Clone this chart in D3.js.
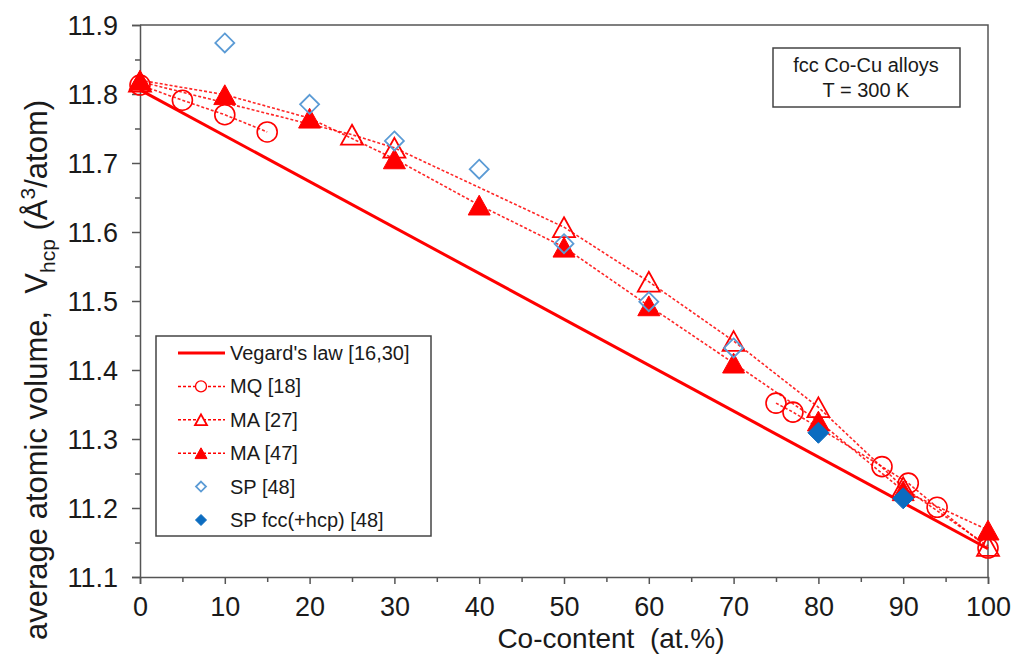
<!DOCTYPE html>
<html>
<head>
<meta charset="utf-8">
<script src="https://cdn.jsdelivr.net/npm/d3@7"></script>
<style>
  body { margin: 0; background: #fff; }
  text { font-family: "Liberation Sans", Arial, sans-serif; fill: #1a1a1a; }
</style>
</head>
<body>
<div id="chart"></div>
<script>
// datos
const xTicks = [0, 10, 20, 30, 40, 50, 60, 70, 80, 90, 100];
const yTicks = [11.1, 11.2, 11.3, 11.4, 11.5, 11.6, 11.7, 11.8, 11.9];

const vegardX = [0, 100];
const vegardY = [11.806, 11.141];

// null = hueco en la línea
const mqX = [0, 5, 10, 15, null, 75, 77, 87.5, 90.6, 94, 100];
const mqY = [11.813, 11.791, 11.770, 11.745, null, 11.352, 11.339, 11.260, 11.236, 11.201, 11.142];

const ma27X = [0, 25, 30, 50, 60, 70, 80, 90, 100];
const ma27Y = [11.818, 11.741, 11.722, 11.607, 11.528, 11.442, 11.346, 11.230, 11.145];

const ma47X = [0, 10, 20, 30, 40, 50, 60, 70, 80, 90, 100];
const ma47Y = [11.820, 11.799, 11.765, 11.706, 11.639, 11.578, 11.493, 11.410, 11.326, 11.225, 11.168];

const spX = [10, 20, 30, 40, 50, 60, 70];
const spY = [11.874, 11.785, 11.732, 11.691, 11.583, 11.499, 11.432];

const spHcpX = [80, 90];
const spHcpY = [11.309, 11.214];

const legendLabels = ["Vegard's law [16,30]", "MQ [18]", "MA [27]", "MA [47]", "SP [48]", "SP fcc(+hcp) [48]"];

const RED = "#ff0000", LBLUE = "#5b9bd5", DBLUE = "#0b6cc0", AXIS = "#555";

const W = 1015, H = 657;
const svg = d3.select("#chart").append("svg").attr("width", W).attr("height", H);

const x = d3.scaleLinear().domain([0, 100]).range([140, 988]);
const y = d3.scaleLinear().domain([11.1, 11.9]).range([577, 25]);

const zip = (xs, ys) => xs.map((v, i) => ({ x: v, y: ys[i] }));

// marco superior y derecho
svg.append("path")
    .attr("d", `M${x(0)},${y(11.9)}H${x(100)}V${y(11.1)}`)
    .attr("fill", "none").attr("stroke", AXIS).attr("stroke-width", 1.5);

// ejes
const xAxis = svg.append("g").attr("transform", `translate(0,${y(11.1)})`)
    .call(d3.axisBottom(x).tickValues(d3.range(0, 101, 5)).tickSize(7).tickPadding(13)
        .tickFormat(d => xTicks.includes(d) ? d : ""));
const yAxis = svg.append("g").attr("transform", `translate(${x(0)},0)`)
    .call(d3.axisLeft(y).tickValues(d3.range(0, 17).map(i => 11.1 + i * 0.05)).tickSize(8).tickPadding(14)
        .tickFormat(d => Math.round(d * 100) % 10 === 0 ? d3.format(".1f")(d) : ""));

[xAxis, yAxis].forEach(g => {
    g.select(".domain").attr("stroke", AXIS).attr("stroke-width", 1.5);
    g.selectAll(".tick line").attr("stroke", AXIS).attr("stroke-width", 1.5);
    g.selectAll(".tick text").attr("font-size", 27).attr("fill", "#1a1a1a")
        .attr("font-family", "Liberation Sans, Arial, sans-serif");
});
xAxis.selectAll(".tick").filter(d => d % 10 !== 0).select("line").attr("y2", 5);
yAxis.selectAll(".tick").filter(d => Math.round(d * 100) % 10 !== 0).select("line").attr("x2", -5);
yAxis.selectAll(".tick text").attr("dy", "0.36em");

// títulos de ejes
svg.append("text").attr("x", 611).attr("y", 648).attr("text-anchor", "middle")
    .attr("font-size", 28).style("white-space", "pre").text("Co-content\u00a0\u00a0(at.%)");

const yt = svg.append("text").attr("transform", "translate(47,640) rotate(-90)")
    .attr("text-anchor", "start").attr("font-size", 31).style("white-space", "pre");
yt.append("tspan").text("average atomic volume,\u00a0\u00a0V");
yt.append("tspan").attr("font-size", 21).attr("dy", 8).text("hcp");
yt.append("tspan").attr("dy", -8).text("\u00a0(Å");
yt.append("tspan").attr("font-size", 21).attr("dy", -12).text("3");
yt.append("tspan").attr("dy", 12).text("/atom)");

// marcadores
const tri = s => `M0,${-s * 0.45}L${s / 2},${s * 0.45}L${-s / 2},${s * 0.45}Z`;
const dia = s => `M0,${-s / 2}L${s / 2},0L0,${s / 2}L${-s / 2},0Z`;
const circ = r => d3.symbol(d3.symbolCircle, Math.PI * r * r)();

const line = d3.line().defined(d => d.y !== null).x(d => x(d.x)).y(d => y(d.y));

// ley de Vegard
svg.append("path").datum(zip(vegardX, vegardY))
    .attr("d", line).attr("fill", "none").attr("stroke", RED).attr("stroke-width", 3);

const dashed = [zip(mqX, mqY), zip(ma27X, ma27Y), zip(ma47X, ma47Y)];
dashed.forEach(d => {
    svg.append("path").datum(d).attr("d", line)
        .attr("fill", "none").attr("stroke", RED).attr("stroke-width", 1.6)
        .attr("stroke-dasharray", "3,2").attr("opacity", 0.85);
});

const series = [
    { data: zip(mqX, mqY).filter(d => d.y !== null), shape: circ(10), fill: "none", stroke: RED, sw: 1.6 },
    { data: zip(ma27X, ma27Y), shape: tri(22), fill: "none", stroke: RED, sw: 1.8 },
    { data: zip(ma47X, ma47Y), shape: tri(22), fill: RED, stroke: RED, sw: 1 },
    { data: zip(spX, spY), shape: dia(19), fill: "none", stroke: LBLUE, sw: 1.8 },
    { data: zip(spHcpX, spHcpY), shape: dia(21), fill: DBLUE, stroke: DBLUE, sw: 1 }
];
series.forEach(s => {
    svg.append("g").selectAll("path").data(s.data).join("path")
        .attr("transform", d => `translate(${x(d.x)},${y(d.y)})`)
        .attr("d", s.shape).attr("fill", s.fill).attr("stroke", s.stroke).attr("stroke-width", s.sw);
});

// leyenda
const leg = svg.append("g");
leg.append("rect").attr("x", 156).attr("y", 336).attr("width", 275).attr("height", 200)
    .attr("fill", "#fff").attr("stroke", "#444").attr("stroke-width", 1.5);
const legMarks = [null, circ(5.5), tri(12), tri(12), dia(10), dia(11)];
const legStyle = [series[0], series[0], series[1], series[2], series[3], series[4]];
legendLabels.forEach((lab, i) => {
    const cy = 353 + i * 33.4;
    if (i === 0) {
        leg.append("line").attr("x1", 178).attr("x2", 225).attr("y1", cy).attr("y2", cy)
            .attr("stroke", RED).attr("stroke-width", 3);
    } else if (i <= 3) {
        leg.append("line").attr("x1", 178).attr("x2", 225).attr("y1", cy).attr("y2", cy)
            .attr("stroke", RED).attr("stroke-width", 1.5).attr("stroke-dasharray", "3,2");
    }
    if (legMarks[i]) {
        const st = legStyle[i];
        leg.append("path").attr("transform", `translate(201,${cy})`).attr("d", legMarks[i])
            .attr("fill", st.fill === "none" ? "#fff" : st.fill).attr("stroke", st.stroke)
            .attr("stroke-width", i === 1 ? 1.3 : st.sw);
    }
    leg.append("text").attr("x", 230).attr("y", cy + 7).attr("font-size", 20).text(lab);
});

// anotación
svg.append("rect").attr("x", 773).attr("y", 48).attr("width", 187).attr("height", 59)
    .attr("fill", "#fff").attr("stroke", "#444").attr("stroke-width", 1.5);
svg.append("text").attr("x", 866).attr("y", 72).attr("text-anchor", "middle")
    .attr("font-size", 20).text("fcc Co-Cu alloys");
svg.append("text").attr("x", 866).attr("y", 97).attr("text-anchor", "middle")
    .attr("font-size", 20).text("T = 300 K");
</script>
</body>
</html>
